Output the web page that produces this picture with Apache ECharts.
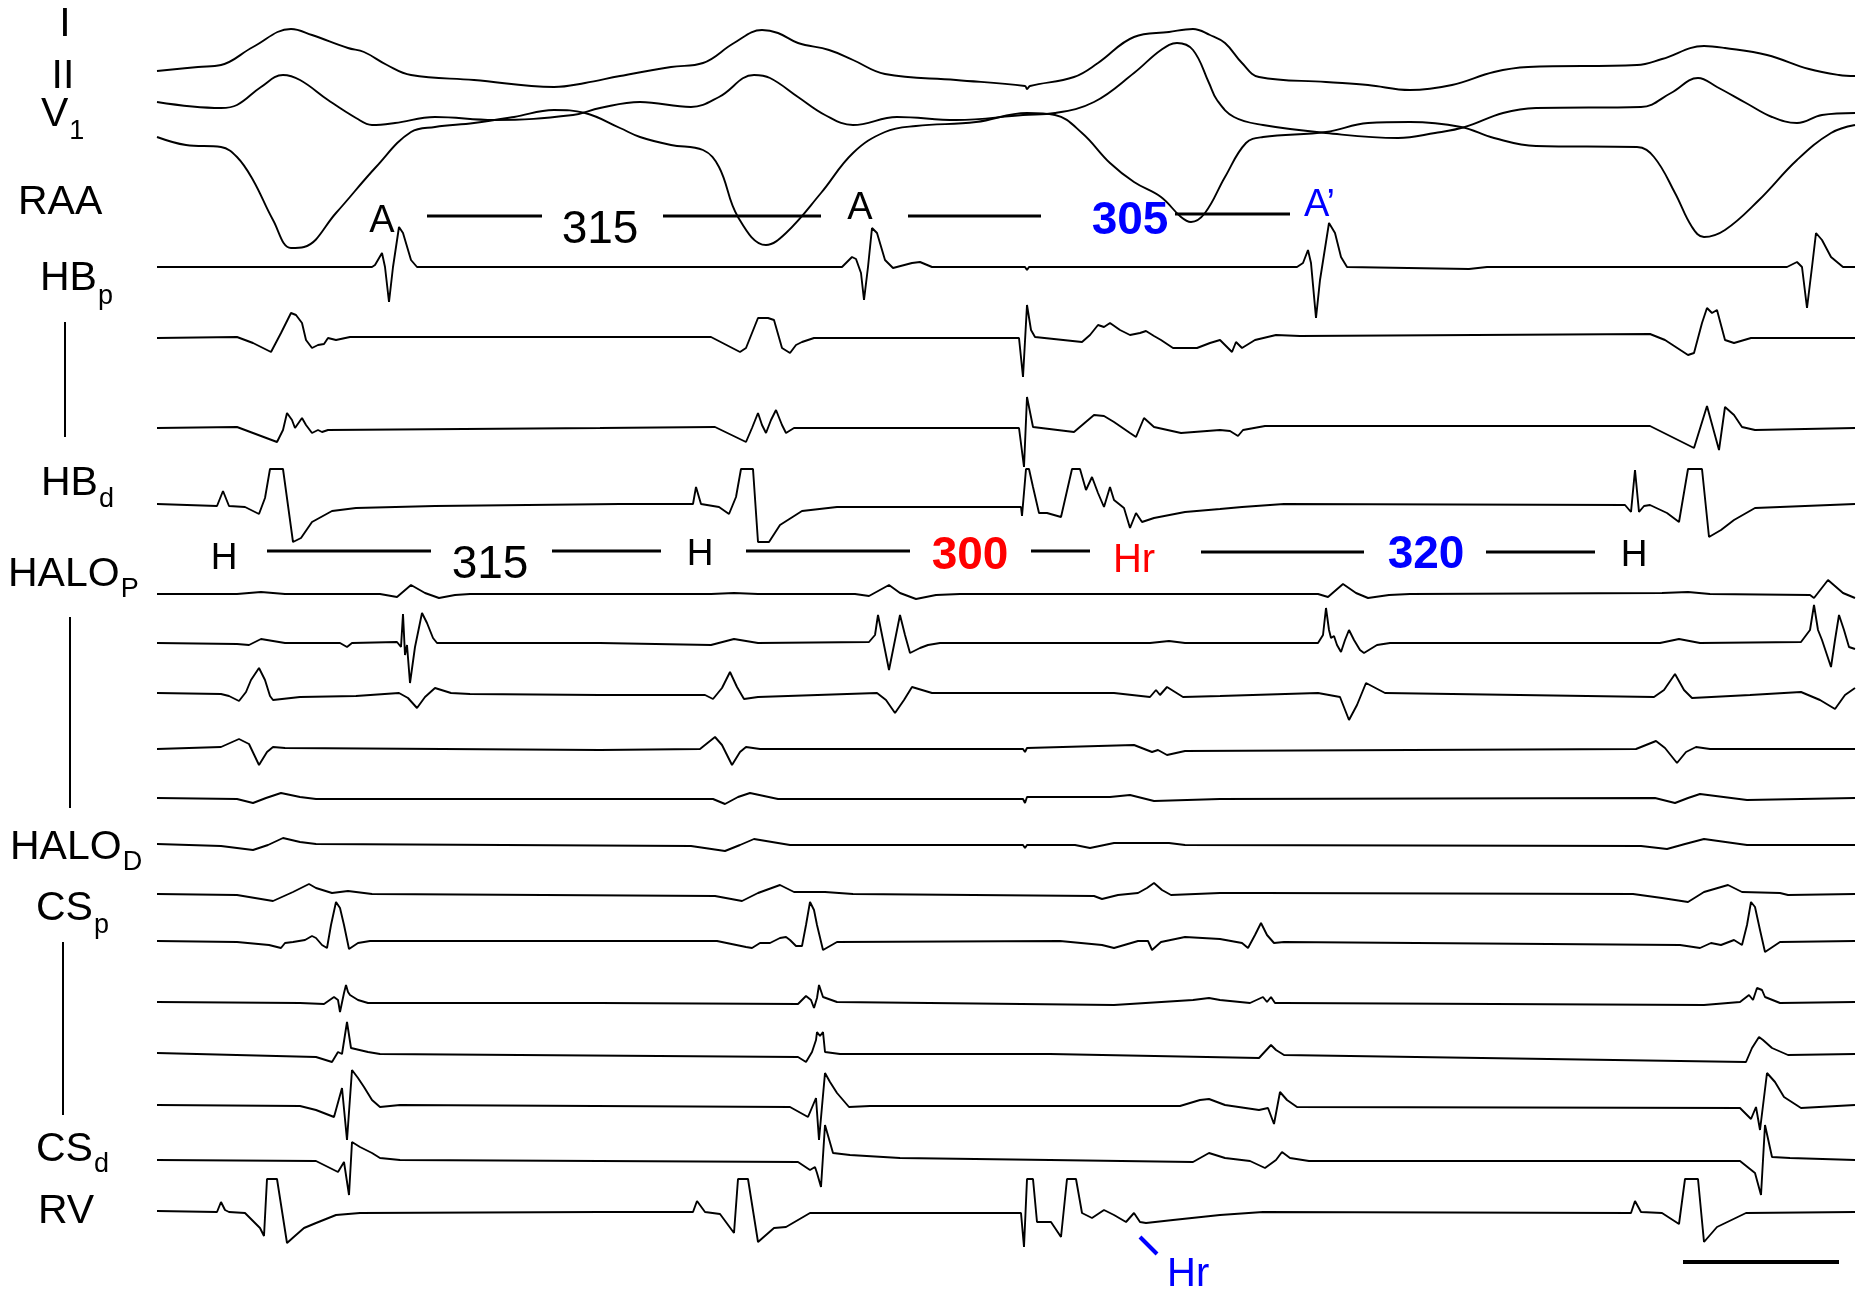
<!DOCTYPE html>
<html><head><meta charset="utf-8">
<script src="https://cdn.jsdelivr.net/npm/echarts@6/dist/echarts.min.js"></script>
<style>html,body{margin:0;padding:0;background:#fff}#c{width:1859px;height:1295px}</style>
</head><body><div id="c"></div>
<script>
// ---- DATA: time in samples (1.5 kHz), amplitude in arbitrary units (positive up) ----
const leadI = [[0,4],[41,8],[64,10],[96,28],[134,46],[155,40],[191,27],[207,23],[230,10],[254,0],[317,-5],[397,-12],[428,-8],[463,-1],[514,8],[546,12],[577,32],[605,45],[621,42],[641,32],[672,25],[696,15],[728,1],[799,-5],[868,-11],[870,-14],[873,-11],[917,-2],[941,12],[977,38],[1012,43],[1036,46],[1053,40],[1068,32],[1085,12],[1102,-2],[1169,-7],[1211,-10],[1253,-15],[1295,-10],[1337,3],[1371,8],[1480,10],[1505,16],[1547,29],[1568,27],[1610,20],[1652,6],[1682,0],[1698,-1]];
const leadII = [[0,8],[64,2],[80,5],[104,23],[126,35],[143,30],[171,10],[199,-8],[215,-15],[238,-13],[278,-7],[337,-10],[416,-5],[443,2],[483,8],[534,3],[562,13],[597,35],[613,32],[641,13],[668,-5],[696,-15],[740,-7],[799,-10],[866,-5],[898,-3],[937,8],[977,37],[1004,60],[1020,67],[1036,60],[1052,27],[1060,10],[1077,-7],[1106,-15],[1169,-23],[1241,-28],[1278,-23],[1308,-17],[1346,-3],[1379,2],[1484,3],[1514,17],[1541,32],[1560,23],[1589,7],[1615,-7],[1640,-13],[1665,-5],[1698,-3]];
const leadV1 = [[0,-7],[29,-15],[64,-17],[80,-27],[96,-50],[116,-90],[134,-118],[147,-117],[179,-83],[219,-37],[254,-2],[278,3],[317,7],[357,13],[397,20],[428,17],[463,2],[483,-7],[514,-15],[546,-20],[562,-37],[581,-87],[609,-115],[629,-103],[664,-63],[696,-23],[728,-2],[759,4],[819,8],[870,17],[898,15],[925,-3],[953,-33],[977,-52],[1004,-67],[1024,-87],[1034,-92],[1048,-83],[1068,-47],[1089,-13],[1106,-7],[1169,-2],[1211,7],[1253,8],[1304,3],[1337,-8],[1379,-16],[1480,-17],[1497,-27],[1518,-63],[1535,-97],[1547,-107],[1568,-100],[1602,-70],[1640,-30],[1674,-3],[1698,5]];
const raa = [[0,0],[215,0],[218,2],[225,14],[228,0],[232,-35],[236,0],[242,40],[246,34],[254,7],[260,0],[685,0],[695,10],[699,8],[704,-6],[707,-33],[711,0],[715,39],[720,34],[728,7],[736,-1],[755,4],[763,5],[775,0],[868,0],[870,-3],[872,0],[1140,0],[1146,4],[1151,17],[1154,4],[1159,-51],[1163,-13],[1172,44],[1178,34],[1184,10],[1190,0],[1312,-2],[1330,0],[1630,0],[1640,5],[1645,0],[1650,-41],[1655,0],[1659,34],[1665,27],[1674,10],[1686,0],[1698,0]];
const hbP = [[0,0],[80,1],[96,-5],[114,-14],[124,5],[134,25],[139,23],[145,15],[149,-2],[155,-10],[161,-7],[167,-6],[171,0],[179,-2],[193,1],[463,1],[554,1],[583,-14],[589,-10],[601,20],[611,20],[617,18],[625,-10],[633,-15],[639,-7],[645,-4],[657,0],[862,0],[866,-39],[870,33],[874,8],[878,1],[925,-4],[933,3],[941,13],[947,11],[953,15],[963,8],[973,3],[983,5],[989,7],[997,2],[1004,-2],[1016,-10],[1040,-10],[1053,-5],[1063,-2],[1075,-14],[1079,-4],[1085,-10],[1098,-2],[1119,3],[1143,2],[1493,4],[1508,-2],[1531,-17],[1537,-15],[1545,15],[1550,30],[1555,25],[1560,28],[1568,-2],[1577,-5],[1594,0],[1698,0]];
const hbM = [[0,0],[80,1],[120,-14],[126,-2],[130,15],[135,8],[138,0],[145,10],[149,3],[155,-5],[161,-2],[165,-4],[171,-2],[443,0],[558,1],[589,-14],[595,0],[601,15],[605,3],[609,-5],[614,8],[619,18],[625,3],[629,-5],[637,0],[862,0],[867,-39],[870,31],[876,1],[917,-4],[937,13],[947,12],[957,6],[973,-5],[979,-9],[987,10],[997,1],[1024,-5],[1063,-2],[1073,-3],[1081,-8],[1086,-2],[1108,2],[1493,2],[1537,-20],[1550,22],[1562,-22],[1568,21],[1577,13],[1585,1],[1598,-2],[1698,0]];
const hbD = [[0,1],[60,-1],[66,14],[72,-1],[88,-2],[102,-9],[108,7],[113,36],[126,36],[136,-37],[144,-33],[155,-17],[175,-6],[199,-3],[278,-1],[463,1],[536,1],[539,18],[544,1],[562,-2],[572,-9],[579,8],[584,36],[596,36],[601,-37],[612,-37],[623,-20],[645,-6],[680,-2],[864,-2],[865,-11],[867,-11],[869,36],[872,36],[876,18],[882,-8],[890,-8],[904,-12],[915,36],[923,36],[929,15],[935,28],[941,12],[947,-2],[953,18],[957,5],[967,-3],[973,-23],[979,-8],[985,-17],[997,-13],[1028,-7],[1063,-4],[1085,-2],[1127,1],[1468,0],[1474,-7],[1478,35],[1482,-7],[1487,-1],[1493,0],[1510,-8],[1522,-17],[1531,36],[1545,36],[1552,-32],[1564,-25],[1577,-15],[1598,-3],[1698,1]];
const halo1 = [[0,0],[80,0],[104,2],[128,0],[223,0],[240,-3],[254,9],[268,1],[282,-4],[298,-1],[313,0],[554,0],[577,1],[601,0],[698,0],[712,-2],[732,9],[743,1],[759,-5],[779,-1],[803,0],[1161,0],[1171,-3],[1186,10],[1199,1],[1211,-4],[1232,-1],[1253,0],[1505,1],[1531,2],[1553,0],[1653,-1],[1657,-4],[1671,14],[1686,1],[1698,-4]];
const halo2 = [[0,0],[80,-1],[92,-2],[104,4],[128,0],[183,0],[190,-4],[195,0],[240,1],[244,-4],[246,29],[248,-12],[250,-2],[253,-40],[258,-4],[265,30],[270,20],[276,5],[280,0],[443,0],[554,-2],[577,4],[601,0],[712,1],[718,8],[721,28],[727,-2],[732,-27],[737,-2],[743,28],[748,8],[753,-10],[763,-5],[771,-2],[783,0],[993,0],[1012,2],[1028,0],[1161,0],[1166,8],[1169,35],[1172,13],[1174,5],[1177,7],[1180,-2],[1184,-9],[1188,3],[1192,13],[1197,3],[1203,-7],[1207,-10],[1220,-2],[1233,0],[1503,0],[1522,4],[1543,0],[1644,1],[1653,13],[1657,38],[1661,13],[1665,3],[1674,-24],[1678,3],[1682,28],[1687,13],[1692,-4],[1698,-6]];
const halo3 = [[0,1],[64,0],[72,-2],[82,-7],[89,2],[94,14],[102,26],[108,14],[113,-2],[116,-6],[143,-3],[199,-2],[242,1],[251,-4],[260,-14],[268,-3],[278,6],[294,1],[313,0],[443,-1],[548,-1],[556,-5],[565,6],[573,22],[580,7],[587,-5],[601,-3],[720,1],[729,-6],[738,-19],[747,-6],[755,7],[775,1],[957,1],[993,-3],[999,4],[1003,-1],[1010,7],[1026,-3],[1063,-2],[1161,1],[1183,-3],[1192,-26],[1200,-11],[1209,11],[1228,1],[1497,-3],[1507,4],[1518,20],[1527,4],[1535,-4],[1593,-1],[1644,2],[1663,-6],[1678,-15],[1688,-1],[1698,6]];
const halo4 = [[0,0],[64,2],[82,10],[92,5],[102,-16],[110,-3],[116,2],[128,1],[443,-1],[543,0],[558,12],[565,4],[575,-16],[583,-3],[589,2],[603,0],[866,0],[868,-3],[870,1],[977,4],[995,-3],[1001,-1],[1010,-6],[1028,-2],[1479,0],[1499,8],[1508,1],[1520,-14],[1529,-3],[1539,2],[1553,0],[1698,0]];
const halo5 = [[0,0],[80,-1],[96,-5],[109,0],[124,5],[143,1],[159,-1],[556,-1],[568,-6],[581,1],[593,5],[621,-1],[866,-1],[868,-5],[870,1],[953,1],[973,3],[997,-3],[1063,-1],[1498,0],[1518,-5],[1531,0],[1543,4],[1590,-2],[1698,0]];
const halo6 = [[0,1],[64,-1],[96,-5],[111,0],[126,7],[143,3],[159,1],[534,-1],[568,-6],[583,0],[597,6],[633,0],[866,0],[868,-3],[870,0],[918,0],[933,-3],[957,2],[1012,2],[1028,0],[1484,-1],[1510,-4],[1528,1],[1547,6],[1590,0],[1698,0]];
const cs1 = [[0,0],[80,-1],[116,-7],[136,2],[152,10],[159,6],[175,1],[191,3],[215,0],[558,-2],[585,-7],[601,1],[623,9],[637,2],[668,2],[696,0],[937,-2],[945,-5],[961,-1],[981,1],[990,6],[997,11],[1005,4],[1014,-1],[1063,1],[1106,1],[1476,0],[1505,-4],[1531,-8],[1547,2],[1571,9],[1585,2],[1623,1],[1631,-1],[1698,0]];
const cs2 = [[0,0],[80,-1],[112,-4],[124,-7],[128,-2],[136,-1],[148,1],[155,5],[159,3],[165,-4],[170,-7],[174,16],[179,39],[183,33],[187,16],[192,-8],[201,-2],[213,0],[560,0],[589,-6],[595,-7],[603,-2],[613,-2],[623,3],[629,4],[633,1],[639,-5],[645,-5],[649,16],[653,39],[657,31],[660,16],[666,-9],[680,-1],[903,0],[945,-4],[957,-7],[981,0],[991,0],[995,-9],[1004,-1],[1028,4],[1063,2],[1085,-2],[1091,-7],[1098,6],[1104,18],[1110,6],[1117,-2],[1127,-1],[1523,-4],[1543,-7],[1554,-2],[1564,-4],[1577,1],[1585,-4],[1590,16],[1594,39],[1598,34],[1603,11],[1608,-11],[1623,-1],[1698,0]];
const cs3 = [[0,0],[143,-1],[167,-2],[177,5],[181,2],[183,-10],[187,9],[189,17],[191,10],[193,7],[201,2],[211,-1],[443,-1],[641,-2],[649,6],[654,2],[657,-6],[660,4],[662,17],[666,5],[680,0],[957,-3],[1036,2],[1052,4],[1063,2],[1093,-1],[1106,5],[1110,0],[1114,5],[1118,-1],[1127,-1],[1547,-3],[1583,0],[1592,7],[1596,2],[1600,14],[1605,12],[1608,5],[1623,-1],[1698,0]];
const cs4 = [[0,1],[159,-3],[175,-8],[181,2],[185,0],[190,32],[194,6],[211,2],[223,0],[641,-3],[649,-8],[655,2],[659,14],[660,22],[663,18],[666,22],[668,2],[683,0],[893,0],[1102,-4],[1114,9],[1119,4],[1127,-1],[1589,-8],[1595,6],[1602,17],[1606,14],[1615,6],[1631,-1],[1698,0]];
const cs5 = [[0,0],[143,-1],[159,-5],[177,-12],[185,17],[190,-35],[195,35],[201,27],[207,18],[215,5],[223,-2],[243,0],[633,-2],[651,-12],[659,7],[662,-35],[668,32],[673,23],[680,12],[692,-2],[713,-1],[1023,-1],[1043,5],[1052,6],[1068,0],[1102,-5],[1111,-3],[1117,-19],[1123,13],[1130,5],[1140,-2],[1583,-3],[1594,-14],[1599,-2],[1603,-25],[1610,32],[1618,23],[1627,8],[1644,-3],[1698,0]];
const cs6 = [[0,0],[159,-1],[181,-12],[187,-2],[192,-35],[195,18],[203,13],[215,7],[223,2],[243,0],[641,-2],[653,-10],[658,-7],[660,-13],[664,-27],[668,35],[676,7],[693,5],[743,2],[893,0],[1036,-2],[1052,7],[1068,2],[1093,-1],[1108,-8],[1119,0],[1125,8],[1133,2],[1152,-1],[1583,-1],[1598,-13],[1604,-35],[1608,35],[1615,3],[1633,2],[1698,0]];
const rv = [[0,1],[60,0],[64,10],[68,2],[72,0],[88,-1],[103,-16],[107,-24],[110,33],[120,33],[130,-31],[139,-23],[147,-16],[159,-11],[179,-3],[203,-1],[443,0],[536,0],[540,11],[548,0],[563,-2],[577,-21],[581,33],[591,33],[601,-30],[617,-16],[629,-15],[653,-1],[864,-1],[867,-35],[870,33],[876,33],[880,-10],[894,-10],[904,-25],[910,33],[919,33],[925,-1],[935,-6],[947,2],[957,-3],[969,-10],[977,-1],[983,-10],[989,-11],[1016,-8],[1063,-3],[1106,0],[1474,-1],[1478,11],[1484,0],[1505,-1],[1522,-12],[1528,33],[1541,33],[1547,-30],[1560,-15],[1589,-1],[1698,0]];

// interval annotations (ms)
const atrialIntervals = ['315', '305'];
const hisIntervals = ['315', '300', '320'];

// ---- LAYOUT (pixel baselines of each channel) ----
const channels = [
  {d: leadI, base: 75, smooth: 0.4}, {d: leadII, base: 110, smooth: 0.4}, {d: leadV1, base: 130, smooth: 0.4},
  {d: raa, base: 267}, {d: hbP, base: 338}, {d: hbM, base: 428}, {d: hbD, base: 505},
  {d: halo1, base: 594}, {d: halo2, base: 643}, {d: halo3, base: 694}, {d: halo4, base: 749}, {d: halo5, base: 798}, {d: halo6, base: 845},
  {d: cs1, base: 894}, {d: cs2, base: 941}, {d: cs3, base: 1002}, {d: cs4, base: 1054}, {d: cs5, base: 1105}, {d: cs6, base: 1160},
  {d: rv, base: 1212}
];

const FONT = '"Liberation Sans", Arial, sans-serif';
const BLUE = '#0000ff', RED = '#ff0000';

const chart = echarts.init(document.getElementById('c'), null, {renderer: 'canvas'});
const series = channels.map(ch => ({
  type: 'line', showSymbol: false, silent: true, animation: false, clip: false,
  smooth: ch.smooth || false,
  lineStyle: {color: '#000', width: 1.9},
  data: ch.d.map(([t, a]) => [t, ch.base - a])
}));

const ctx = document.createElement('canvas').getContext('2d');
function tw(txt, size, weight) { ctx.font = (weight || 'normal') + ' ' + size + 'px ' + FONT; return ctx.measureText(txt).width; }

function txt(s, x, y, size, opts) {
  opts = opts || {};
  return {type: 'text', x: x, y: y, silent: true,
    style: {text: s, fill: opts.color || '#000', font: (opts.weight || 'normal') + ' ' + size + 'px ' + FONT,
      textAlign: opts.align || 'center', textVerticalAlign: 'middle'}};
}
function seg(x1, y1, x2, y2, w, color) {
  return {type: 'line', silent: true, shape: {x1: x1, y1: y1, x2: x2, y2: y2},
    style: {stroke: color || '#000', lineWidth: w || 3}};
}
function labelSub(main, sub, left, cy, subDy) {
  const w = tw(main, 41);
  return [txt(main, left, cy, 41, {align: 'left'}), txt(sub, left + w + 1, cy + subDy, 27, {align: 'left'})];
}

const g = [];
// channel labels
g.push(txt('I', 65, 25, 41));
g.push(txt('II', 63, 77, 41));
g.push(...labelSub('V', '1', 41, 115, 17));
g.push(txt('RAA', 18, 203, 41, {align: 'left'}));
g.push(...labelSub('HB', 'p', 40, 279, 18));
g.push(seg(65, 322, 65, 437, 2));
g.push(...labelSub('HB', 'd', 41, 484, 16));
g.push(...labelSub('HALO', 'P', 8, 575, 15));
g.push(seg(70, 617, 70, 808, 2));
g.push(...labelSub('HALO', 'D', 10, 848, 15));
g.push(...labelSub('CS', 'p', 36, 909, 17));
g.push(seg(63, 942, 63, 1115, 2));
g.push(...labelSub('CS', 'd', 36, 1150, 15));
g.push(txt('RV', 38, 1212, 41, {align: 'left'}));

// atrial interval row
g.push(txt('A', 382, 222, 38));
g.push(seg(427, 216, 542, 216));
g.push(txt(atrialIntervals[0], 600, 230, 46));
g.push(seg(663, 216, 821, 216));
g.push(txt('A', 860, 209, 38));
g.push(seg(908, 216, 1041, 216));
g.push(txt(atrialIntervals[1], 1130, 221, 46, {color: BLUE, weight: 'bold'}));
g.push(seg(1175, 214, 1290, 214));
g.push(txt('A\u2019', 1304, 206, 38, {color: BLUE, align: 'left'}));

// His interval row
g.push(txt('H', 224, 559, 37));
g.push(seg(267, 551, 431, 551));
g.push(txt(hisIntervals[0], 490, 565, 46));
g.push(seg(552, 551, 661, 551));
g.push(txt('H', 700, 555, 37));
g.push(seg(746, 551, 910, 551));
g.push(txt(hisIntervals[1], 970, 556, 46, {color: RED, weight: 'bold'}));
g.push(seg(1031, 551, 1090, 551));
g.push(txt('Hr', 1134, 561, 40, {color: RED}));
g.push(seg(1201, 552, 1364, 552));
g.push(txt(hisIntervals[2], 1426, 555, 46, {color: BLUE, weight: 'bold'}));
g.push(seg(1486, 552, 1595, 552));
g.push(txt('H', 1634, 556, 37));

// bottom Hr marker and scale bar
g.push(seg(1140, 1237, 1157, 1254, 4, BLUE));
g.push(txt('Hr', 1167, 1275, 40, {color: BLUE, align: 'left'}));
g.push(seg(1683, 1262, 1839, 1262, 4));

chart.setOption({
  animation: false,
  backgroundColor: '#fff',
  grid: {left: 157, right: 3, top: 0, bottom: 0},
  xAxis: {type: 'value', min: 0, max: 1699, show: false},
  yAxis: {type: 'value', min: 0, max: 1295, inverse: true, show: false},
  series: series,
  graphic: g
});
</script></body></html>
